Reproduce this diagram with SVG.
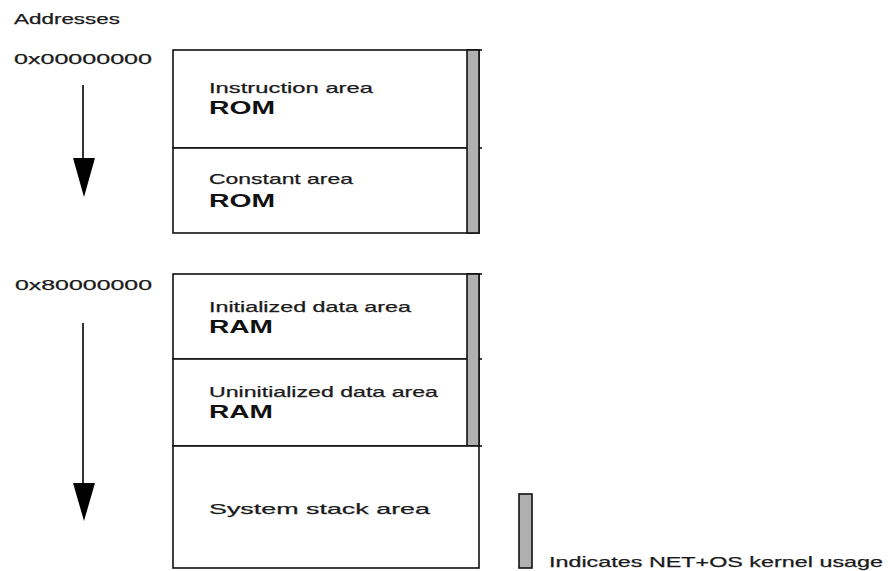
<svg xmlns="http://www.w3.org/2000/svg" width="888" height="571" viewBox="0 0 888 571">
  <style>
    .t { font-family: "Liberation Sans", Arial, sans-serif; font-size: 15px; fill: #1a1a1a; stroke: #1a1a1a; stroke-width: 0.25; }
    .b { font-family: "Liberation Sans", Arial, sans-serif; font-size: 18px; font-weight: bold; fill: #111; }
    .box { fill: #fff; stroke: #111; stroke-width: 1.6; }
    .ln { stroke: #111; stroke-width: 1.6; fill: none; }
    .kern { fill: #b0b0b0; stroke: #111; stroke-width: 1.6; }
    .arr { stroke: #333; stroke-width: 2; fill: none; }
    .head { fill: #000; }
  </style>
  <rect width="888" height="571" fill="#fff"/>

  <!-- address column -->
  <g id="addresses">
    <text class="t" x="14" y="24" textLength="106" lengthAdjust="spacingAndGlyphs">Addresses</text>
    <text class="t" x="14" y="64" textLength="138" lengthAdjust="spacingAndGlyphs">0x00000000</text>
    <text class="t" x="15" y="290" textLength="137" lengthAdjust="spacingAndGlyphs">0x80000000</text>
  </g>

  <!-- direction arrows -->
  <g id="connectors">
    <line class="arr" x1="83" y1="85" x2="83" y2="160"/>
    <path class="head" d="M73,158 L95,158 L84,197 Z"/>
    <line class="arr" x1="83" y1="323" x2="83" y2="485"/>
    <path class="head" d="M73,483 L95,483 L84,521 Z"/>
  </g>

  <!-- ROM block -->
  <g id="instruction-area">
    <rect class="box" x="173" y="50" width="306" height="98"/>
    <line class="ln" x1="467" y1="50" x2="482" y2="50"/>
    <text class="t" x="209" y="93" textLength="164" lengthAdjust="spacingAndGlyphs">Instruction area</text>
    <text class="b" x="209" y="114" textLength="66" lengthAdjust="spacingAndGlyphs">ROM</text>
  </g>
  <g id="constant-area">
    <rect class="box" x="173" y="148" width="306" height="85"/>
    <line class="ln" x1="467" y1="148" x2="482" y2="148"/>
    <text class="t" x="209" y="184" textLength="144" lengthAdjust="spacingAndGlyphs">Constant area</text>
    <text class="b" x="209" y="207" textLength="66" lengthAdjust="spacingAndGlyphs">ROM</text>
  </g>
  <g id="rom-kernel-bar">
    <rect class="kern" x="467" y="50" width="12" height="183"/>
  </g>

  <!-- RAM block -->
  <g id="initialized-data-area">
    <rect class="box" x="173" y="274" width="306" height="85"/>
    <line class="ln" x1="467" y1="274" x2="482" y2="274"/>
    <text class="t" x="209" y="312" textLength="202" lengthAdjust="spacingAndGlyphs">Initialized data area</text>
    <text class="b" x="209" y="333" textLength="64" lengthAdjust="spacingAndGlyphs">RAM</text>
  </g>
  <g id="uninitialized-data-area">
    <rect class="box" x="173" y="359" width="306" height="87"/>
    <line class="ln" x1="467" y1="359" x2="482" y2="359"/>
    <line class="ln" x1="467" y1="446" x2="482" y2="446"/>
    <text class="t" x="209" y="397" textLength="229" lengthAdjust="spacingAndGlyphs">Uninitialized data area</text>
    <text class="b" x="209" y="418" textLength="64" lengthAdjust="spacingAndGlyphs">RAM</text>
  </g>
  <g id="ram-kernel-bar">
    <rect class="kern" x="467" y="274" width="12" height="172"/>
  </g>
  <g id="system-stack-area">
    <rect class="box" x="173" y="446" width="306" height="122"/>
    <text class="t" x="209" y="514" textLength="221" lengthAdjust="spacingAndGlyphs">System stack area</text>
  </g>

  <!-- legend -->
  <g id="legend">
    <rect class="kern" x="519" y="494" width="13" height="74"/>
    <text class="t" x="549" y="567" textLength="334" lengthAdjust="spacingAndGlyphs">Indicates NET+OS kernel usage</text>
  </g>
</svg>
